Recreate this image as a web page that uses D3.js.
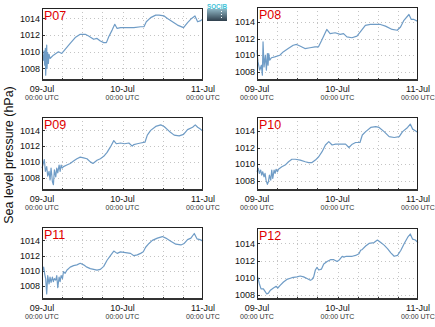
<!DOCTYPE html>
<html><head><meta charset="utf-8">
<script src="https://cdn.jsdelivr.net/npm/d3@7"></script>
<style>body{margin:0;background:#fff}svg{display:block;font-family:"Liberation Sans",Arial,sans-serif}</style>
</head><body>
<svg id="c" width="435" height="327"></svg>
<script>
const stations = ["P07","P08","P09","P10","P11","P12"];
const dayLabels = ["09-Jul","10-Jul","11-Jul"];
const timeLabel = "00:00 UTC";
const yTickValues = [1008,1010,1012,1014];
const yDomains = [[1006.5,1015.25],[1006.9,1015.8],[1006.3,1015.7],[1006.8,1015.65],[1006.2,1015.75],[1007.4,1015.8]];

const p07Hours = [0.2,0.4,0.6,0.8,1.0,1.1,1.3,1.4,1.5,1.7,1.9,2.1,2.4,3.4,4.9,5.9,6.9,8.4,9.9,11.4,12.9,13.9,15.4,16.4,17.4,18.4,19.2,19.9,20.9,21.7,22.4,23.4,25.4,27.4,29.4,30.4,31.1,32.4,33.9,34.9,36.4,37.4,38.9,40.4,42.2,43.4,44.6,45.6,46.4,47.1,47.9];
const p07Values = [1009.6,1009.0,1010.1,1008.4,1010.4,1007.2,1009.8,1010.8,1008.0,1009.9,1008.6,1009.7,1009.2,1009.6,1010.0,1009.8,1010.3,1011.0,1011.7,1012.1,1012.1,1011.9,1011.5,1011.6,1011.3,1011.1,1011.1,1011.8,1012.6,1013.3,1012.8,1012.9,1012.9,1012.9,1013.0,1013.0,1013.6,1014.1,1014.4,1014.4,1014.3,1014.0,1013.6,1013.2,1012.9,1013.5,1014.0,1014.3,1013.6,1013.7,1013.9];

const p08Hours = [0,0.3,0.8,1.3,1.6,1.8,2.1,2.5,2.8,3.1,3.3,3.5,3.8,4.3,5.3,6.8,7.8,9.3,10.8,11.8,12.8,14.3,15.8,17.3,18.3,19.3,20.8,21.8,23.3,24.8,25.8,26.8,28.3,29.8,30.8,32.3,33.8,35.3,36.8,38.3,40.3,41.8,42.8,43.8,45.3,46.0,46.8,47.8];
const p08Values = [1010.6,1009.2,1008.2,1008.8,1007.6,1011.6,1008.6,1010.0,1008.2,1010.2,1008.8,1010.2,1009.4,1009.7,1009.8,1010.0,1010.4,1010.8,1011.2,1011.3,1011.1,1010.8,1010.9,1011.0,1011.0,1011.8,1013.1,1012.6,1012.7,1012.5,1012.6,1012.2,1012.1,1012.3,1012.8,1013.6,1013.7,1013.7,1013.7,1013.5,1013.1,1013.0,1013.4,1014.2,1014.9,1014.3,1014.3,1014.1];

const p09Hours = [0,0.4,0.7,1.0,1.4,1.7,2.1,2.4,2.7,3.1,3.4,3.7,4.1,4.4,4.7,5.1,5.4,5.7,6.0,6.4,7.4,8.4,9.4,10.4,11.4,12.4,13.4,14.4,15.2,16.4,17.4,18.4,19.4,20.4,21.4,22.2,23.4,24.6,25.9,26.9,27.4,28.4,29.4,30.7,31.4,32.4,33.9,35.4,36.4,37.9,39.4,40.9,42.2,43.4,44.9,45.7,46.4,47.1,48];
const p09Values = [1009.2,1009.8,1010.3,1008.8,1009.4,1008.2,1008.8,1007.7,1009.2,1007.5,1007.1,1009.0,1008.1,1009.2,1008.6,1009.6,1008.8,1009.6,1009.2,1009.4,1009.6,1009.8,1010.1,1010.4,1010.6,1010.5,1010.4,1010.0,1009.8,1010.2,1010.4,1010.7,1011.2,1011.9,1012.7,1012.3,1012.4,1012.3,1012.4,1012.0,1012.2,1012.3,1012.4,1012.5,1013.4,1014.0,1014.5,1014.7,1014.5,1013.9,1013.4,1013.3,1013.5,1014.1,1014.4,1014.7,1014.4,1014.2,1013.9];

const p10Hours = [0,0.4,0.7,1.1,1.4,1.7,2.1,2.4,2.7,3.1,3.4,3.7,4.1,4.4,4.7,5.1,5.4,5.7,6.1,6.4,7.4,8.4,9.4,10.4,11.4,12.9,14.4,15.4,16.4,17.4,18.4,19.4,20.4,21.4,22.4,23.4,24.9,26.4,27.4,28.4,29.4,30.7,31.4,32.4,33.9,35.4,36.4,37.9,39.4,40.9,42.4,43.4,44.9,45.7,46.4,47.2,48];
const p10Values = [1009.1,1009.5,1008.9,1009.3,1008.7,1009.1,1008.5,1008.9,1008.1,1007.6,1007.9,1008.7,1008.1,1009.3,1008.3,1009.3,1008.9,1009.4,1009.1,1009.4,1009.7,1009.9,1010.3,1010.6,1010.6,1010.5,1010.3,1010.2,1010.2,1010.5,1010.9,1011.5,1012.3,1012.7,1012.3,1012.4,1012.4,1012.4,1012.0,1012.4,1012.6,1012.6,1013.5,1013.9,1014.4,1014.5,1014.4,1013.9,1013.3,1013.2,1013.3,1013.9,1014.4,1014.8,1014.2,1014.0,1013.8];

const p11Hours = [0.2,0.5,0.8,1.1,1.4,1.7,2.1,2.4,2.7,3.1,3.4,3.7,4.1,4.4,4.7,5.1,5.4,5.7,6.1,6.4,6.9,7.4,8.4,9.4,10.4,11.4,12.4,13.4,14.4,15.4,16.4,17.4,18.4,19.4,20.4,21.4,22.4,23.4,24.9,26.4,27.4,28.4,29.4,30.2,30.9,31.9,32.9,34.4,35.9,36.9,38.4,39.9,41.4,42.4,43.4,44.4,45.4,46.2,47.1,48];
const p11Values = [1010.1,1010.5,1009.6,1009.0,1007.0,1009.4,1008.3,1009.2,1008.5,1009.2,1008.6,1009.0,1008.8,1009.4,1007.8,1009.2,1008.6,1009.4,1009.0,1009.9,1009.7,1010.1,1010.5,1010.7,1010.8,1011.0,1010.8,1010.5,1010.3,1010.2,1010.1,1010.2,1010.6,1011.4,1012.0,1012.6,1012.3,1012.5,1012.4,1012.3,1012.0,1012.1,1012.3,1012.5,1013.1,1013.6,1014.0,1014.3,1014.5,1014.3,1013.9,1013.5,1013.4,1013.6,1014.1,1014.3,1014.9,1014.2,1014.1,1013.9];

const p12Hours = [0.2,0.7,1.2,1.9,2.4,2.9,3.4,3.9,4.9,5.7,6.2,6.9,7.9,8.9,10.4,11.9,12.9,13.9,14.9,15.9,16.4,16.9,17.4,17.9,18.4,19.2,19.9,20.9,21.9,22.9,23.9,24.6,25.4,25.9,26.6,27.4,28.4,29.4,30.4,30.9,31.4,32.4,33.4,34.9,35.9,36.9,37.9,38.9,39.9,40.9,41.9,42.9,43.9,44.9,45.7,46.4,47.2,48];
const p12Values = [1010.1,1009.3,1008.7,1008.7,1008.4,1008.1,1008.2,1008.5,1008.8,1009.0,1008.8,1009.1,1009.5,1009.8,1010.0,1010.1,1010.2,1010.1,1009.9,1009.7,1009.8,1010.1,1010.9,1011.2,1010.9,1011.0,1011.6,1011.9,1012.1,1012.1,1011.9,1012.1,1012.5,1012.4,1012.5,1012.5,1012.5,1012.6,1012.8,1013.2,1013.3,1013.7,1014.0,1014.1,1014.4,1014.1,1013.8,1013.4,1012.9,1012.5,1012.6,1013.2,1014.0,1014.7,1015.1,1014.5,1014.4,1014.1];

const hoursList = [p07Hours,p08Hours,p09Hours,p10Hours,p11Hours,p12Hours];
const valuesList = [p07Values,p08Values,p09Values,p10Values,p11Values,p12Values];

const svg = d3.select("#c");
const colX = [[42,203],[257,418],[42,203],[257,418],[42,203],[257,418]];
const rowY = [[8,81],[7,81],[117,191],[117,191],[227,300],[228,300]];
const t0 = Date.UTC(2013,6,9);
const H = 3600e3;

stations.forEach((name,i)=>{
  const x = d3.scaleUtc().domain([new Date(t0), new Date(t0+48*H)]).range(colX[i]);
  const y = d3.scaleLinear().domain(yDomains[i]).range([rowY[i][1], rowY[i][0]]);
  const g = svg.append("g");
  const x0 = colX[i][0], x1 = colX[i][1], yT = rowY[i][0], yB = rowY[i][1];
  const gridTimes = d3.range(6,48,6).map(h=>new Date(t0+h*H));
  g.selectAll(".vg").data(gridTimes).join("line")
    .attr("x1",d=>Math.round(x(d))+0.5).attr("x2",d=>Math.round(x(d))+0.5).attr("y1",yT).attr("y2",yB)
    .attr("stroke","#c4c4c4").attr("stroke-width",1).attr("stroke-dasharray","1,3");
  g.selectAll(".hg").data(yTickValues).join("line")
    .attr("x1",x0).attr("x2",x1).attr("y1",d=>Math.round(y(d))+0.5).attr("y2",d=>Math.round(y(d))+0.5)
    .attr("stroke","#c4c4c4").attr("stroke-width",1).attr("stroke-dasharray","1,3");
  g.selectAll(".xt").data(gridTimes).join("line")
    .attr("x1",d=>Math.round(x(d))+0.5).attr("x2",d=>Math.round(x(d))+0.5).attr("y1",yB).attr("y2",yB-3)
    .attr("stroke","#333");
  g.selectAll(".yt").data(yTickValues).join("line")
    .attr("x1",x0).attr("x2",x0+3).attr("y1",d=>Math.round(y(d))+0.5).attr("y2",d=>Math.round(y(d))+0.5)
    .attr("stroke","#333");
  const pts = hoursList[i].map((h,k)=>[new Date(t0+h*H), valuesList[i][k]]);
  g.append("path").datum(pts)
    .attr("d", d3.line().x(d=>x(d[0])).y(d=>y(d[1])))
    .attr("fill","none").attr("stroke","#6f9cc6").attr("stroke-width",1.2).attr("stroke-linejoin","round");
  g.append("rect").attr("x",x0+0.5).attr("y",yT+0.5).attr("width",x1-x0-1).attr("height",yB-yT-1)
    .attr("fill","none").attr("stroke","#222").attr("stroke-width",1);
  g.append("line").attr("x1",x0).attr("x2",x1).attr("y1",yB-1).attr("y2",yB-1)
    .attr("stroke","#333").attr("stroke-width",2);
  g.selectAll(".yl").data(yTickValues).join("text")
    .attr("x",x0-2).attr("y",d=>y(d)).attr("dy","0.35em").attr("text-anchor","end")
    .attr("font-size",9).attr("fill","#111").text(d=>d);
  const dayTimes = [0,24,48].map(h=>new Date(t0+h*H));
  g.selectAll(".xl").data(dayTimes).join("text")
    .attr("x",d=>x(d)).attr("y",yB+11).attr("text-anchor","middle")
    .attr("font-size",9).attr("fill","#111").text((d,k)=>dayLabels[k]);
  g.selectAll(".xl2").data(dayTimes).join("text")
    .attr("x",d=>x(d)).attr("y",yB+19).attr("text-anchor","middle")
    .attr("font-size",7).attr("fill","#333").text(timeLabel);
  g.append("text").attr("x",x0+2).attr("y",yT+12).attr("font-size",12.5).attr("fill","#e00000").text(name);
});

svg.append("text").attr("transform","translate(13,155) rotate(-90)").attr("text-anchor","middle")
  .attr("font-size",12.5).attr("fill","#111").text("Sea level pressure (hPa)");

const defs = svg.append("defs");
const lg = defs.append("linearGradient").attr("id","lg").attr("x1",0).attr("y1",0).attr("x2",0).attr("y2",1);
lg.append("stop").attr("offset","0%").attr("stop-color","#8fb6c4");
lg.append("stop").attr("offset","100%").attr("stop-color","#2f3f4c");
svg.append("rect").attr("x",207).attr("y",9).attr("width",20).attr("height",12).attr("fill","url(#lg)");
svg.append("line").attr("x1",221.5).attr("x2",221.5).attr("y1",11).attr("y2",20).attr("stroke","#fff").attr("stroke-dasharray","1,2");
svg.append("text").attr("x",207).attr("y",9).attr("font-size",7).attr("textLength",20).attr("lengthAdjust","spacingAndGlyphs")
  .attr("fill","#3fc3d8").attr("font-weight","bold").text("SOCIB");
</script>
</body></html>
